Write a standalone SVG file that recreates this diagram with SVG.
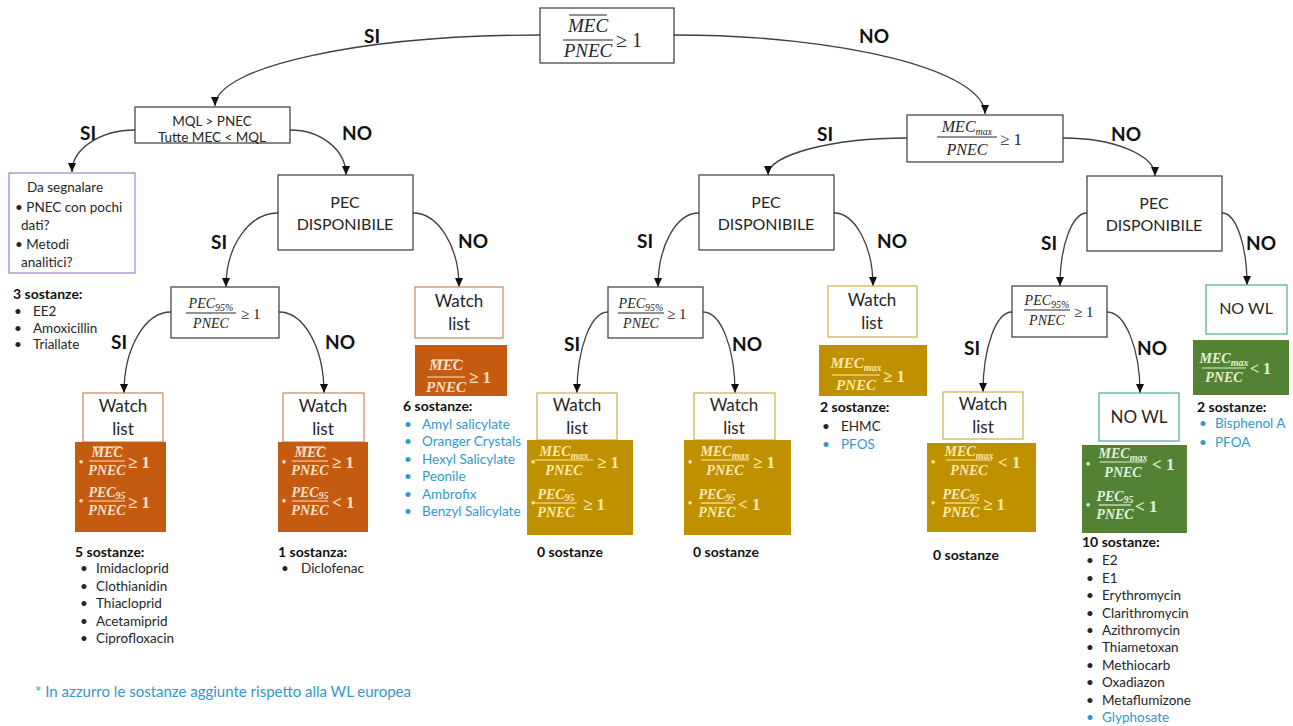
<svg xmlns="http://www.w3.org/2000/svg" width="1293" height="726" viewBox="0 0 1293 726">
<style>
.nb{fill:#fff;stroke:#3a3a3a;stroke-width:1.2}
.pu{fill:#fff;stroke:#a57fc7;stroke-width:1.2}
.wo{fill:#fff;stroke:#c9875b;stroke-width:1.2}
.wg{fill:#fff;stroke:#cbb050;stroke-width:1.2}
.wt{fill:#fff;stroke:#4fa89c;stroke-width:1.2}
.fo{fill:#c55a11}
.fg{fill:#bf9000}
.fgr{fill:#548235}
.tx{font-family:Lato,"Liberation Sans",sans-serif;fill:#262626}
.c{text-anchor:middle}
.lb{font-family:Lato,"Liberation Sans",sans-serif;font-weight:700;font-size:19px;fill:#111}
.hd{font-family:Lato,"Liberation Sans",sans-serif;font-weight:700;font-size:14px;fill:#111}
.it{font-family:Lato,"Liberation Sans",sans-serif;font-size:13.5px;fill:#262626}
.bl{fill:#3399cc}
.mi{font-family:"Liberation Serif",serif;font-style:italic;text-anchor:middle;fill:#262626}
.rel{font-family:"Liberation Serif",serif;fill:#262626}
.fr line{stroke:#262626;stroke-width:1}
.inv text{font-weight:700}
.on text{fill:#fbe1cc}.on line{stroke:#fbe1cc;stroke-width:1.2}
.gn text{fill:#ffe9a8}.gn line{stroke:#ffe9a8;stroke-width:1.2}
.grn text{fill:#e2f0d9}.grn line{stroke:#e2f0d9;stroke-width:1.2}
.sub{font-size:10px}
#connectors path{fill:none;stroke:#404040;stroke-width:1.3;marker-end:url(#arr)}
</style>
<defs>
<marker id="arr" markerUnits="userSpaceOnUse" markerWidth="10" markerHeight="10" refX="9" refY="5" orient="auto">
<path d="M0,1 L9,5 L0,9 z" fill="#111"/>
</marker>
</defs>
<rect width="1293" height="726" fill="#fff"/>

<g id="connectors">
<path d="M540,35 C361,35 215,67 215,106"/>
<path d="M674,35 C845,35 985,71 985,114"/>
<path d="M135,130 C100,130 72,149 72,172"/>
<path d="M290,130 C321,130 346,150 346,175"/>
<path d="M278,213 C249,213 226,246 226,287"/>
<path d="M413,213 C438,213 459,246 459,287"/>
<path d="M171,312 C145,312 124,348 124,393"/>
<path d="M279,312 C304,312 324,348 324,393"/>
<path d="M907,138 C831,138 768,155 768,175"/>
<path d="M1063,138 C1114,138 1155,155 1155,176"/>
<path d="M699,213 C676,213 658,246 658,287"/>
<path d="M834,213 C855,213 873,246 873,286"/>
<path d="M608,312 C591,312 577,348 577,393"/>
<path d="M703,312 C721,312 735,348 735,393"/>
<path d="M1087,213 C1072,213 1060,246 1060,286"/>
<path d="M1222,213 C1236,213 1247,245 1247,285"/>
<path d="M1012,312 C996,312 983,348 983,392"/>
<path d="M1107,312 C1125,312 1140,348 1140,393"/>
</g>

<g id="edge-labels">
<text class="lb" x="364" y="43">SI</text>
<text class="lb" x="859" y="43">NO</text>
<text class="lb" x="80" y="140">SI</text>
<text class="lb" x="342" y="140">NO</text>
<text class="lb" x="211" y="249">SI</text>
<text class="lb" x="458" y="248">NO</text>
<text class="lb" x="111" y="349">SI</text>
<text class="lb" x="325" y="349">NO</text>
<text class="lb" x="817" y="141">SI</text>
<text class="lb" x="1111" y="141">NO</text>
<text class="lb" x="637" y="248">SI</text>
<text class="lb" x="877" y="248">NO</text>
<text class="lb" x="564" y="351">SI</text>
<text class="lb" x="732" y="351">NO</text>
<text class="lb" x="1041" y="250">SI</text>
<text class="lb" x="1246" y="250">NO</text>
<text class="lb" x="964" y="355">SI</text>
<text class="lb" x="1137" y="355">NO</text>
</g>

<g id="root">
<rect class="nb" x="540" y="8" width="134" height="55"/>
<g class="fr" transform="translate(588,40)">
<line x1="-19" y1="-25" x2="19" y2="-25"/>
<text class="mi" y="-8" font-size="19">MEC</text>
<line x1="-25" y1="0" x2="25" y2="0"/>
<text class="mi" y="17" font-size="19">PNEC</text>
<text class="rel" x="28" y="7" font-size="20">≥ 1</text>
</g>
</g>

<g id="mql">
<rect class="nb" x="135" y="107" width="155" height="36"/>
<text class="tx c" x="212" y="126" font-size="13.5">MQL &gt; PNEC</text>
<text class="tx c" x="212" y="142" font-size="13.5">Tutte MEC &lt; MQL</text>
</g>

<g id="segnalare">
<rect class="pu" x="9" y="173" width="126" height="100"/>
<text class="tx c" x="65" y="192" font-size="13.5">Da segnalare</text>
<text class="tx" x="15" y="212" font-size="13.5">• PNEC con pochi</text>
<text class="tx" x="21" y="230" font-size="13.5">dati?</text>
<text class="tx" x="15" y="249" font-size="13.5">• Metodi</text>
<text class="tx" x="21" y="267" font-size="13.5">analitici?</text>
</g>

<g id="list-3">
<text class="hd" x="13" y="299">3 sostanze:</text>
<text class="it" x="14" y="316">•</text><text class="it" x="33" y="316">EE2</text>
<text class="it" x="14" y="333">•</text><text class="it" x="33" y="333">Amoxicillin</text>
<text class="it" x="14" y="349">•</text><text class="it" x="33" y="349">Triallate</text>
</g>

<g id="pec-left">
<rect class="nb" x="278" y="175" width="135" height="75"/>
<text class="tx c" x="345" y="208" font-size="16">PEC</text>
<text class="tx c" x="345" y="230" font-size="16">DISPONIBILE</text>
</g>

<g id="pec95-left">
<rect class="nb" x="171" y="287" width="108" height="51"/>
<g class="fr" transform="translate(211,313)">
<text class="mi" y="-5" font-size="14">PEC<tspan class="sub" dy="3">95%</tspan></text>
<line x1="-25" y1="0" x2="25" y2="0"/>
<text class="mi" y="15" font-size="14">PNEC</text>
<text class="rel" x="30" y="6" font-size="15">≥ 1</text>
</g>
</g>

<g id="wl-nopec-left">
<rect class="wo" x="415" y="287" width="88" height="51"/>
<text class="tx c" x="459" y="307" font-size="17">Watch</text>
<text class="tx c" x="459" y="330" font-size="17">list</text>
<rect class="fo" x="415" y="345" width="92" height="51"/>
<g class="fr on inv" transform="translate(446,377)">
<line x1="-14" y1="-17" x2="14" y2="-17"/>
<text class="mi" y="-7" font-size="15">MEC</text>
<line x1="-19" y1="0" x2="19" y2="0"/>
<text class="mi" y="15" font-size="15">PNEC</text>
<text class="rel" x="23" y="6" font-size="17">≥ 1</text>
</g>
</g>

<g id="list-6">
<text class="hd" x="403" y="411">6 sostanze:</text>
<g class="it bl">
<text x="404" y="429">•</text><text x="422" y="429">Amyl salicylate</text>
<text x="404" y="446">•</text><text x="422" y="446">Oranger Crystals</text>
<text x="404" y="464">•</text><text x="422" y="464">Hexyl Salicylate</text>
<text x="404" y="481">•</text><text x="422" y="481">Peonile</text>
<text x="404" y="499">•</text><text x="422" y="499">Ambrofix</text>
<text x="404" y="516">•</text><text x="422" y="516">Benzyl Salicylate</text>
</g>
</g>

<g id="wl-left-1">
<rect class="wo" x="83" y="393" width="80" height="49"/>
<text class="tx c" x="123" y="412" font-size="17">Watch</text>
<text class="tx c" x="123" y="435" font-size="17">list</text>
<rect class="fo" x="75" y="442" width="91" height="90"/>
<g class="fr on inv">
<text x="79" y="466" font-size="12">•</text>
<text x="79" y="505" font-size="12">•</text>
<g transform="translate(107,461)">
<line x1="-14" y1="-14" x2="14" y2="-14"/>
<text class="mi" y="-4" font-size="14">MEC</text>
<line x1="-18" y1="0" x2="18" y2="0"/>
<text class="mi" y="14" font-size="14">PNEC</text>
<text class="rel" x="21" y="7" font-size="17">≥ 1</text>
</g>
<g transform="translate(107,501)">
<text class="mi" y="-4" font-size="14">PEC<tspan class="sub" dy="2">95</tspan></text>
<line x1="-18" y1="0" x2="18" y2="0"/>
<text class="mi" y="14" font-size="14">PNEC</text>
<text class="rel" x="21" y="7" font-size="17">≥ 1</text>
</g>
</g>
</g>

<g id="list-5">
<text class="hd" x="75" y="557">5 sostanze:</text>
<g class="it">
<text x="80" y="573">•</text><text x="96" y="573">Imidacloprid</text>
<text x="80" y="591">•</text><text x="96" y="591">Clothianidin</text>
<text x="80" y="608">•</text><text x="96" y="608">Thiacloprid</text>
<text x="80" y="626">•</text><text x="96" y="626">Acetamiprid</text>
<text x="80" y="643">•</text><text x="96" y="643">Ciprofloxacin</text>
</g>
</g>

<g id="wl-left-2">
<rect class="wo" x="283" y="393" width="81" height="49"/>
<text class="tx c" x="323" y="412" font-size="17">Watch</text>
<text class="tx c" x="323" y="435" font-size="17">list</text>
<rect class="fo" x="278" y="442" width="90" height="90"/>
<g class="fr on inv">
<text x="282" y="466" font-size="12">•</text>
<text x="282" y="505" font-size="12">•</text>
<g transform="translate(310,461)">
<line x1="-14" y1="-14" x2="14" y2="-14"/>
<text class="mi" y="-4" font-size="14">MEC</text>
<line x1="-18" y1="0" x2="18" y2="0"/>
<text class="mi" y="14" font-size="14">PNEC</text>
<text class="rel" x="22" y="7" font-size="17">≥ 1</text>
</g>
<g transform="translate(310,501)">
<text class="mi" y="-4" font-size="14">PEC<tspan class="sub" dy="2">95</tspan></text>
<line x1="-18" y1="0" x2="18" y2="0"/>
<text class="mi" y="14" font-size="14">PNEC</text>
<text class="rel" x="22" y="7" font-size="17">&lt; 1</text>
</g>
</g>
</g>

<g id="list-1">
<text class="hd" x="278" y="557">1 sostanza:</text>
<text class="it" x="281" y="573">•</text><text class="it" x="301" y="573">Diclofenac</text>
</g>

<g id="mecmax">
<rect class="nb" x="907" y="115" width="156" height="47"/>
<g class="fr" transform="translate(967,137)">
<text class="mi" y="-5" font-size="16">MEC<tspan class="sub" font-size="11" dy="3">max</tspan></text>
<line x1="-30" y1="0" x2="30" y2="0"/>
<text class="mi" y="18" font-size="16">PNEC</text>
<text class="rel" x="33" y="8" font-size="17">≥ 1</text>
</g>
</g>

<g id="pec-mid">
<rect class="nb" x="699" y="175" width="135" height="75"/>
<text class="tx c" x="766" y="208" font-size="16">PEC</text>
<text class="tx c" x="766" y="230" font-size="16">DISPONIBILE</text>
</g>

<g id="pec95-mid">
<rect class="nb" x="608" y="287" width="95" height="51"/>
<g class="fr" transform="translate(641,313)">
<text class="mi" y="-5" font-size="14">PEC<tspan class="sub" dy="3">95%</tspan></text>
<line x1="-23" y1="0" x2="23" y2="0"/>
<text class="mi" y="15" font-size="14">PNEC</text>
<text class="rel" x="26" y="6" font-size="15">≥ 1</text>
</g>
</g>

<g id="wl-nopec-mid">
<rect class="wg" x="828" y="286" width="89" height="51"/>
<text class="tx c" x="872" y="306" font-size="17">Watch</text>
<text class="tx c" x="872" y="329" font-size="17">list</text>
<rect class="fg" x="819" y="345" width="108" height="51"/>
<g class="fr gn inv" transform="translate(856,375)">
<text class="mi" y="-7" font-size="15">MEC<tspan class="sub" dy="3">max</tspan></text>
<line x1="-24" y1="0" x2="24" y2="0"/>
<text class="mi" y="15" font-size="15">PNEC</text>
<text class="rel" x="27" y="7" font-size="17">≥ 1</text>
</g>
</g>

<g id="list-2-mid">
<text class="hd" x="820" y="412">2 sostanze:</text>
<text class="it" x="822" y="431">•</text><text class="it" x="841" y="431">EHMC</text>
<text class="it bl" x="822" y="449">•</text><text class="it bl" x="841" y="449">PFOS</text>
</g>

<g id="wl-mid-1">
<rect class="wg" x="537" y="393" width="80" height="47"/>
<text class="tx c" x="577" y="411" font-size="17">Watch</text>
<text class="tx c" x="577" y="434" font-size="17">list</text>
<rect class="fg" x="527" y="440" width="106" height="95"/>
<g class="fr gn inv">
<text x="531" y="466" font-size="12">•</text>
<text x="531" y="507" font-size="12">•</text>
<g transform="translate(564,460)">
<text class="mi" y="-4" font-size="14">MEC<tspan class="sub" dy="3">max</tspan></text>
<line x1="-29" y1="0" x2="29" y2="0"/>
<text class="mi" y="15" font-size="14">PNEC</text>
<text class="rel" x="33" y="8" font-size="17">≥ 1</text>
</g>
<g transform="translate(556,503)">
<text class="mi" y="-4" font-size="14">PEC<tspan class="sub" dy="2">95</tspan></text>
<line x1="-21" y1="0" x2="21" y2="0"/>
<text class="mi" y="14" font-size="14">PNEC</text>
<text class="rel" x="27" y="7" font-size="17">≥ 1</text>
</g>
</g>
<text class="hd" x="537" y="557">0 sostanze</text>
</g>

<g id="wl-mid-2">
<rect class="wg" x="694" y="393" width="81" height="47"/>
<text class="tx c" x="734" y="411" font-size="17">Watch</text>
<text class="tx c" x="734" y="434" font-size="17">list</text>
<rect class="fg" x="684" y="440" width="107" height="95"/>
<g class="fr gn inv">
<text x="688" y="466" font-size="12">•</text>
<text x="688" y="507" font-size="12">•</text>
<g transform="translate(725,460)">
<text class="mi" y="-4" font-size="14">MEC<tspan class="sub" dy="3">max</tspan></text>
<line x1="-24" y1="0" x2="24" y2="0"/>
<text class="mi" y="15" font-size="14">PNEC</text>
<text class="rel" x="28" y="8" font-size="17">≥ 1</text>
</g>
<g transform="translate(717,503)">
<text class="mi" y="-4" font-size="14">PEC<tspan class="sub" dy="2">95</tspan></text>
<line x1="-16" y1="0" x2="16" y2="0"/>
<text class="mi" y="14" font-size="14">PNEC</text>
<text class="rel" x="21" y="7" font-size="17">&lt; 1</text>
</g>
</g>
<text class="hd" x="693" y="557">0 sostanze</text>
</g>

<g id="pec-right">
<rect class="nb" x="1087" y="176" width="135" height="75"/>
<text class="tx c" x="1154" y="209" font-size="16">PEC</text>
<text class="tx c" x="1154" y="231" font-size="16">DISPONIBILE</text>
</g>

<g id="pec95-right">
<rect class="nb" x="1012" y="286" width="95" height="51"/>
<g class="fr" transform="translate(1047,310)">
<text class="mi" y="-5" font-size="14">PEC<tspan class="sub" dy="3">95%</tspan></text>
<line x1="-23" y1="0" x2="23" y2="0"/>
<text class="mi" y="15" font-size="14">PNEC</text>
<text class="rel" x="27" y="7" font-size="15">≥ 1</text>
</g>
</g>

<g id="nowl-right">
<rect class="wt" x="1206" y="285" width="81" height="49"/>
<text class="tx c" x="1246" y="314" font-size="16">NO WL</text>
<rect class="fgr" x="1193" y="340" width="96" height="55"/>
<g class="fr grn inv" transform="translate(1224,368)">
<text class="mi" y="-5" font-size="14">MEC<tspan class="sub" dy="3">max</tspan></text>
<line x1="-22" y1="0" x2="22" y2="0"/>
<text class="mi" y="14" font-size="14">PNEC</text>
<text class="rel" x="26" y="6" font-size="16">&lt; 1</text>
</g>
</g>

<g id="list-2-right">
<text class="hd" x="1197" y="412">2 sostanze:</text>
<text class="it bl" x="1199" y="428">•</text><text class="it bl" x="1215" y="428">Bisphenol A</text>
<text class="it bl" x="1199" y="447">•</text><text class="it bl" x="1215" y="447">PFOA</text>
</g>

<g id="wl-right">
<rect class="wg" x="943" y="392" width="80" height="47"/>
<text class="tx c" x="983" y="410" font-size="17">Watch</text>
<text class="tx c" x="983" y="433" font-size="17">list</text>
<rect class="fg" x="927" y="443" width="109" height="89"/>
<g class="fr gn inv">
<text x="931" y="466" font-size="12">•</text>
<text x="931" y="507" font-size="12">•</text>
<g transform="translate(969,460)">
<text class="mi" y="-4" font-size="14">MEC<tspan class="sub" dy="3">max</tspan></text>
<line x1="-23" y1="0" x2="23" y2="0"/>
<text class="mi" y="15" font-size="14">PNEC</text>
<text class="rel" x="29" y="8" font-size="17">&lt; 1</text>
</g>
<g transform="translate(961,503)">
<text class="mi" y="-4" font-size="14">PEC<tspan class="sub" dy="2">95</tspan></text>
<line x1="-16" y1="0" x2="16" y2="0"/>
<text class="mi" y="14" font-size="14">PNEC</text>
<text class="rel" x="22" y="7" font-size="17">≥ 1</text>
</g>
</g>
<text class="hd" x="933" y="560">0 sostanze</text>
</g>

<g id="nowl-mid">
<rect class="wt" x="1099" y="393" width="80" height="48"/>
<text class="tx c" x="1139" y="423" font-size="17">NO WL</text>
<rect class="fgr" x="1082" y="445" width="105" height="88"/>
<g class="fr grn inv">
<text x="1086" y="468" font-size="12">•</text>
<text x="1086" y="509" font-size="12">•</text>
<g transform="translate(1123,462)">
<text class="mi" y="-4" font-size="14">MEC<tspan class="sub" dy="3">max</tspan></text>
<line x1="-23" y1="0" x2="23" y2="0"/>
<text class="mi" y="15" font-size="14">PNEC</text>
<text class="rel" x="29" y="8" font-size="17">&lt; 1</text>
</g>
<g transform="translate(1115,505)">
<text class="mi" y="-4" font-size="14">PEC<tspan class="sub" dy="2">95</tspan></text>
<line x1="-16" y1="0" x2="16" y2="0"/>
<text class="mi" y="14" font-size="14">PNEC</text>
<text class="rel" x="20" y="7" font-size="17">&lt; 1</text>
</g>
</g>
</g>

<g id="list-10">
<text class="hd" x="1082" y="547">10 sostanze:</text>
<g class="it">
<text x="1086" y="565">•</text><text x="1102" y="565">E2</text>
<text x="1086" y="583">•</text><text x="1102" y="583">E1</text>
<text x="1086" y="600">•</text><text x="1102" y="600">Erythromycin</text>
<text x="1086" y="618">•</text><text x="1102" y="618">Clarithromycin</text>
<text x="1086" y="635">•</text><text x="1102" y="635">Azithromycin</text>
<text x="1086" y="652">•</text><text x="1102" y="652">Thiametoxan</text>
<text x="1086" y="670">•</text><text x="1102" y="670">Methiocarb</text>
<text x="1086" y="687">•</text><text x="1102" y="687">Oxadiazon</text>
<text x="1086" y="705">•</text><text x="1102" y="705">Metaflumizone</text>
<text class="bl" x="1086" y="722">•</text><text class="bl" x="1102" y="722">Glyphosate</text>
</g>
</g>

<text id="footnote" class="it bl" x="35" y="697" font-size="15" style="font-size:15px">* In azzurro le sostanze aggiunte rispetto alla WL europea</text>
</svg>
